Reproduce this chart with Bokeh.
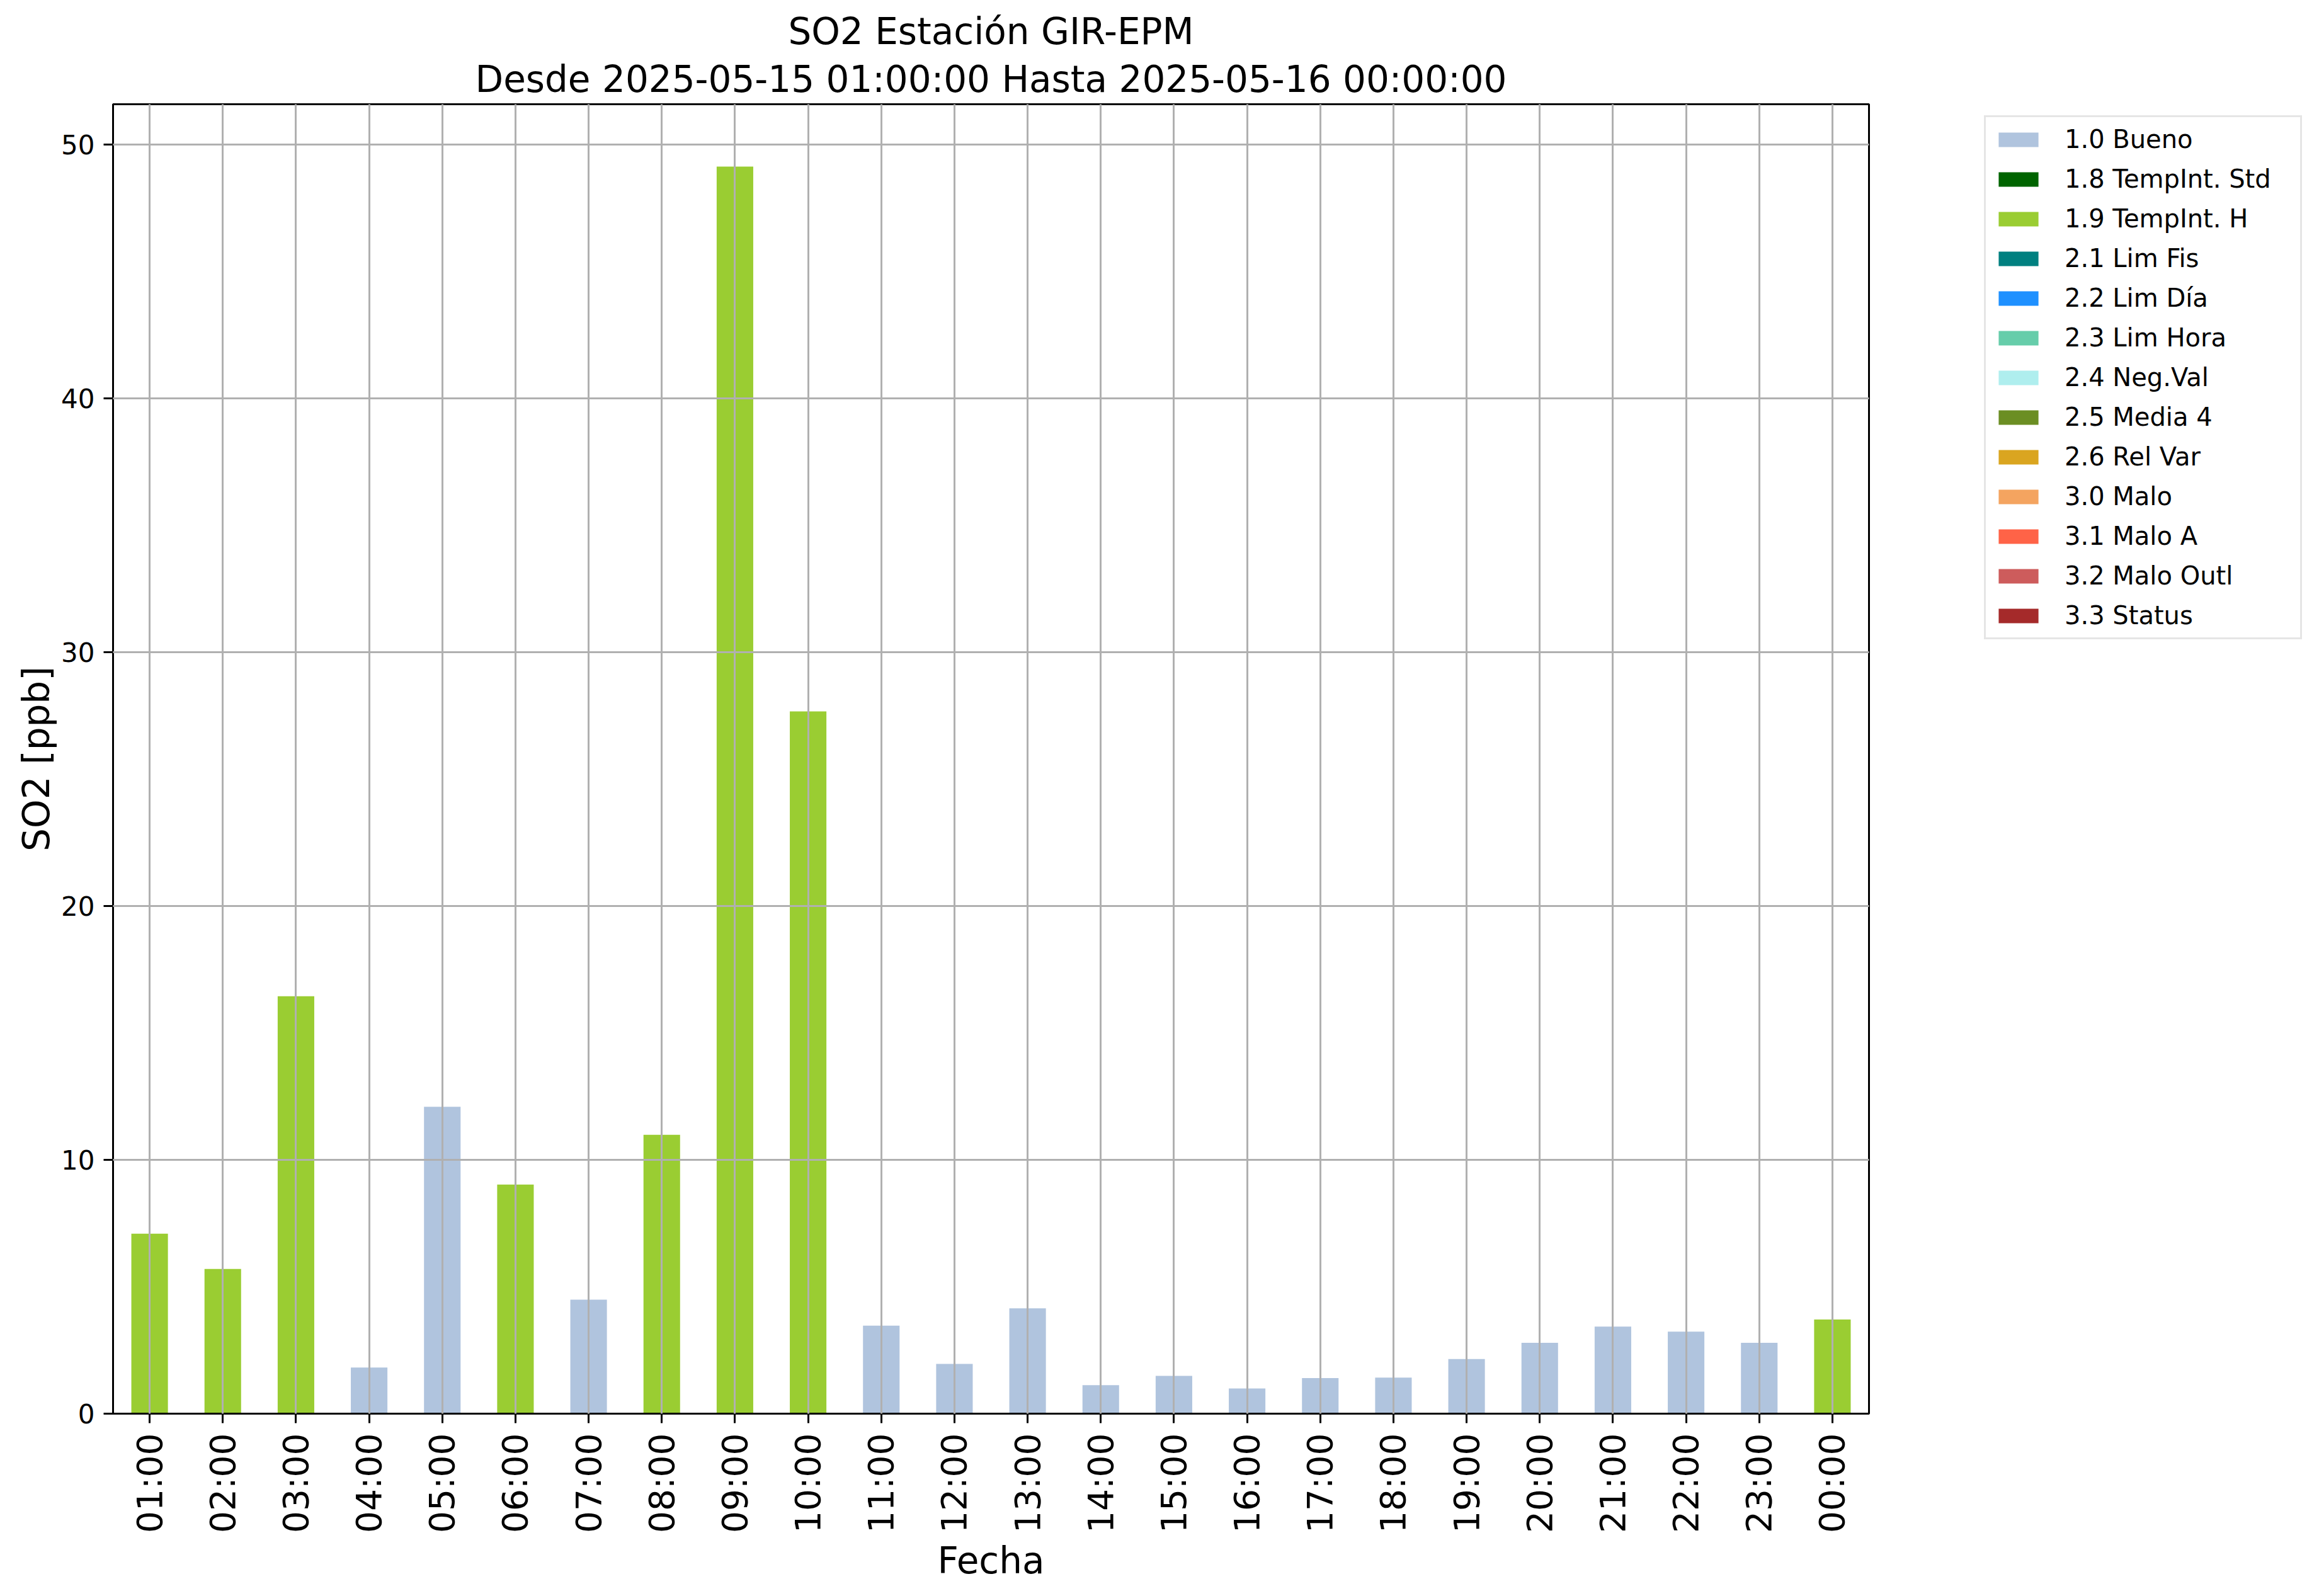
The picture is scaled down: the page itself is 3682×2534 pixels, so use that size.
import numpy as np
from bokeh.plotting import figure
from bokeh.layouts import row
from bokeh.models import (Range1d, FactorRange, ColumnDataSource, Legend, LegendItem,
                          FixedTicker, Title, CDSView, IndexFilter)
from bokeh.embed import file_html
from bokeh.resources import INLINE
from math import pi

# ---------------- data ----------------
hours = ["01:00", "02:00", "03:00", "04:00", "05:00", "06:00", "07:00", "08:00",
         "09:00", "10:00", "11:00", "12:00", "13:00", "14:00", "15:00", "16:00",
         "17:00", "18:00", "19:00", "20:00", "21:00", "22:00", "23:00", "00:00"]
so2 = [7.09, 5.70, 16.45, 1.82, 12.09, 9.03, 4.49, 10.99, 49.14, 27.67, 3.47, 1.96,
       4.15, 1.12, 1.49, 0.99, 1.40, 1.42, 2.15, 2.79, 3.43, 3.23, 2.79, 3.71]
flags = ["1.9", "1.9", "1.9", "1.0", "1.0", "1.9", "1.0", "1.9", "1.9", "1.9", "1.0", "1.0",
         "1.0", "1.0", "1.0", "1.0", "1.0", "1.0", "1.0", "1.0", "1.0", "1.0", "1.0", "1.9"]

flag_codes = ["1.0", "1.8", "1.9", "2.1", "2.2", "2.3", "2.4", "2.5", "2.6",
              "3.0", "3.1", "3.2", "3.3"]
flag_labels = ["1.0 Bueno", "1.8 TempInt. Std", "1.9 TempInt. H", "2.1 Lim Fis",
               "2.2 Lim Día", "2.3 Lim Hora", "2.4 Neg.Val", "2.5 Media 4", "2.6 Rel Var",
               "3.0 Malo", "3.1 Malo A", "3.2 Malo Outl", "3.3 Status"]
flag_colors = ["#b0c4de", "#006400", "#9acd32", "#008080", "#1e90ff", "#66cdaa",
               "#afeeee", "#6b8e23", "#daa520", "#f4a460", "#ff6347", "#cd5c5c", "#a52a2a"]

title_1 = "SO2 Estación GIR-EPM"
title_2 = "Desde 2025-05-15 01:00:00 Hasta 2025-05-16 00:00:00"
x_label = "Fecha"
y_label = "SO2 [ppb]"
y_ticks = [0, 10, 20, 30, 40, 50]

FONT = "DejaVu Sans"
TOTAL_W, TOTAL_H = 3666, 2518
MAIN_W = 179 + 2788 + 10

p = figure(width=MAIN_W, height=TOTAL_H, output_backend="svg", toolbar_location=None,
           x_range=FactorRange(factors=hours, range_padding=0),
           y_range=Range1d(0, max(so2) * 1.05),
           min_border_left=179, min_border_right=10, min_border_top=165,
           min_border_bottom=274)
p.title.visible = False

t2 = Title(text=title_2, align="center", text_font=FONT, text_font_size="58px",
           text_font_style="normal", text_color="black", standoff=11, offset=0)
t1 = Title(text=title_1, align="center", text_font=FONT, text_font_size="58px",
           text_font_style="normal", text_color="black", standoff=2, offset=0)
p.add_layout(t2, "above")
p.add_layout(t1, "above")

# legend holder figure (no axes); its renderers only show the empty (NaN) rows,
# so they draw nothing and just feed the legend
q = figure(width=TOTAL_W - MAIN_W, height=TOTAL_H, output_backend="svg",
           toolbar_location=None, x_axis_location=None, y_axis_location=None,
           x_range=FactorRange(factors=hours, range_padding=0),
           y_range=Range1d(1000, 1001),
           min_border_left=0, min_border_right=0, min_border_top=0, min_border_bottom=0)
q.title.visible = False
q.outline_line_color = None
q.grid.visible = False
q.background_fill_color = "white"
q.border_fill_color = "white"

so2_arr = np.array(so2, dtype=float)
flags_arr = np.array(flags)
items = []
for code, lab, col in zip(flag_codes, flag_labels, flag_colors):
    tops = np.where(flags_arr == code, so2_arr, np.nan)
    src = ColumnDataSource(dict(x=hours, top=tops))
    p.vbar(x="x", top="top", bottom=0, width=0.5, source=src,
           fill_color=col, line_color=None)
    nan_rows = [int(i) for i in np.flatnonzero(np.isnan(tops))]
    rq = q.vbar(x="x", top="top", bottom=0, width=0.5, source=src,
                view=CDSView(filter=IndexFilter(indices=nan_rows)),
                fill_color=col, line_color=None)
    items.append(LegendItem(label=lab, renderers=[rq]))

legend = Legend(items=items, location=(3158 - 8 - MAIN_W, 1229), orientation="vertical",
                label_text_font=FONT, label_text_font_size="40px",
                label_text_color="black",
                glyph_width=79, glyph_height=29, label_standoff=34,
                label_height=29, label_width=362, spacing=17, padding=12, margin=0,
                border_line_color="#cccccc", border_line_width=3,
                background_fill_color="white", background_fill_alpha=1.0)
q.add_layout(legend, "center")

# axes
for ax in (p.xaxis[0], p.yaxis[0]):
    ax.axis_line_color = "black"
    ax.axis_line_width = 3
    ax.major_tick_line_color = "black"
    ax.major_tick_line_width = 3
    ax.major_tick_out = 15
    ax.major_tick_in = 0
    ax.minor_tick_line_color = None
    ax.axis_label_text_font = FONT
    ax.axis_label_text_font_size = "58px"
    ax.axis_label_text_font_style = "normal"
    ax.axis_label_text_color = "black"
    ax.major_label_text_font = FONT
    ax.major_label_text_color = "black"

p.xaxis.axis_label = x_label
p.yaxis.axis_label = y_label
p.xaxis.major_label_text_font_size = "55px"
p.xaxis.major_label_orientation = pi / 2
p.xaxis.major_label_standoff = 16
p.xaxis.axis_label_standoff = 7
p.yaxis.major_label_text_font_size = "42px"
p.yaxis.major_label_standoff = 14
p.yaxis.axis_label_standoff = 2
p.yaxis.ticker = FixedTicker(ticks=y_ticks)

# grid over the bars
for g in (p.xgrid[0], p.ygrid[0]):
    g.grid_line_color = "#b0b0b0"
    g.grid_line_width = 3
    g.level = "annotation"

p.outline_line_color = "black"
p.outline_line_width = 3
p.outline_line_alpha = 1.0
p.background_fill_color = "white"
p.border_fill_color = "white"

layout = row(p, q, spacing=0)
open("out.html", "w").write(file_html(layout, INLINE))
